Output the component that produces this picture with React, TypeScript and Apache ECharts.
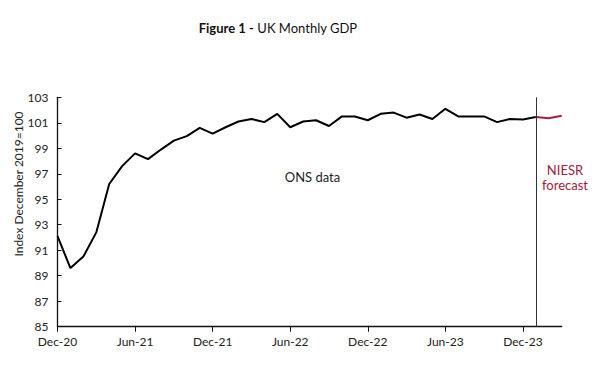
import React, { useEffect, useRef } from "react";
import * as echarts from "echarts";

const months: string[] = [
  "Dec-20",
  "Jan-21", "Feb-21", "Mar-21", "Apr-21", "May-21", "Jun-21", "Jul-21", "Aug-21", "Sep-21", "Oct-21", "Nov-21", "Dec-21",
  "Jan-22", "Feb-22", "Mar-22", "Apr-22", "May-22", "Jun-22", "Jul-22", "Aug-22", "Sep-22", "Oct-22", "Nov-22", "Dec-22",
  "Jan-23", "Feb-23", "Mar-23", "Apr-23", "May-23", "Jun-23", "Jul-23", "Aug-23", "Sep-23", "Oct-23", "Nov-23", "Dec-23",
  "Jan-24", "Feb-24", "Mar-24",
];

const onsData: (number | null)[] = [
  92.1,
  89.6, 90.5, 92.4, 96.2, 97.6, 98.6, 98.15, 98.9, 99.6, 99.95, 100.6, 100.15,
  100.65, 101.1, 101.3, 101.05, 101.7, 100.65, 101.1, 101.2, 100.75, 101.5, 101.5, 101.2,
  101.7, 101.8, 101.4, 101.65, 101.3, 102.1, 101.5, 101.5, 101.5, 101.05, 101.3, 101.25,
  101.45, null, null,
];

const forecastData: (number | null)[] = [
  null,
  null, null, null, null, null, null, null, null, null, null, null, null,
  null, null, null, null, null, null, null, null, null, null, null, null,
  null, null, null, null, null, null, null, null, null, null, null, null,
  101.45, 101.35, 101.55,
];

const yTicks = { min: 85, max: 103, interval: 2 };
const forecastStart = "Jan-24";

const FONT = "Lato, 'Open Sans', sans-serif";
const RED = "#a3203a";
const TEXT = "#222";

export default function App() {
  const ref = useRef<HTMLDivElement>(null);
  useEffect(() => {
    if (!ref.current) return;
    const chart = echarts.init(ref.current, undefined, { renderer: "svg" });
    const showIdx = (i: number) => i % 6 === 0;
    chart.setOption({
      animation: false,
      backgroundColor: "#fff",
      textStyle: { fontFamily: FONT },
      grid: { left: 57.5, right: 38.3, top: 97.3, bottom: 60.3, containLabel: false },
      xAxis: {
        type: "category",
        data: months,
        boundaryGap: false,
        axisLine: { lineStyle: { color: "#111", width: 1.3 } },
        axisTick: { show: true, inside: false, length: 5, interval: (i: number) => showIdx(i), lineStyle: { color: "#111" } },
        axisLabel: { interval: (i: number) => showIdx(i), color: TEXT, fontSize: 12, fontFamily: FONT, margin: 9 },
        splitLine: { show: false },
      },
      yAxis: {
        type: "value",
        min: yTicks.min,
        max: yTicks.max,
        interval: yTicks.interval,
        axisLine: { show: true, lineStyle: { color: "#111", width: 1.3 } },
        axisTick: { show: true, inside: true, length: 4, lineStyle: { color: "#111" } },
        axisLabel: { color: TEXT, fontSize: 12, fontFamily: FONT, margin: 9 },
        splitLine: { show: false },
      },
      series: [
        {
          name: "ONS data",
          type: "line",
          data: onsData,
          symbol: "none",
          lineStyle: { color: "#000", width: 2 },
          connectNulls: false,
        },
        {
          name: "NIESR forecast",
          type: "line",
          data: forecastData,
          symbol: "none",
          lineStyle: { color: RED, width: 2 },
          markLine: {
            silent: true,
            symbol: "none",
            label: { show: false },
            lineStyle: { color: "#333", width: 1, type: "solid" },
            data: [{ xAxis: forecastStart }],
          },
        },
      ],
      graphic: [
        {
          type: "text",
          x: 278,
          y: 28,
          style: {
            text: "{b|Figure 1 -} {r|UK Monthly GDP}",
            align: "center",
            verticalAlign: "middle",
            rich: {
              b: { fontFamily: FONT, fontWeight: "bold", fontSize: 13, fill: "#111" },
              r: { fontFamily: FONT, fontSize: 13, fill: "#111" },
            },
          },
        },
        {
          type: "text",
          x: 18,
          y: 184,
          rotation: Math.PI / 2,
          style: {
            text: "Index December 2019=100",
            align: "center",
            verticalAlign: "middle",
            fontFamily: FONT,
            fontSize: 12,
            fill: TEXT,
          },
        },
        {
          type: "text",
          x: 312.5,
          y: 177,
          style: {
            text: "ONS data",
            align: "center",
            verticalAlign: "middle",
            fontFamily: FONT,
            fontSize: 13,
            fill: TEXT,
          },
        },
        {
          type: "text",
          x: 565,
          y: 177,
          style: {
            text: "NIESR\nforecast",
            align: "center",
            verticalAlign: "middle",
            lineHeight: 15,
            fontFamily: FONT,
            fontSize: 13,
            fill: RED,
          },
        },
      ],
    });
    return () => chart.dispose();
  }, []);
  return (
    <div
      ref={ref}
      style={{ position: "fixed", left: 0, top: 0, width: 600, height: 387, background: "#fff" }}
    />
  );
}
